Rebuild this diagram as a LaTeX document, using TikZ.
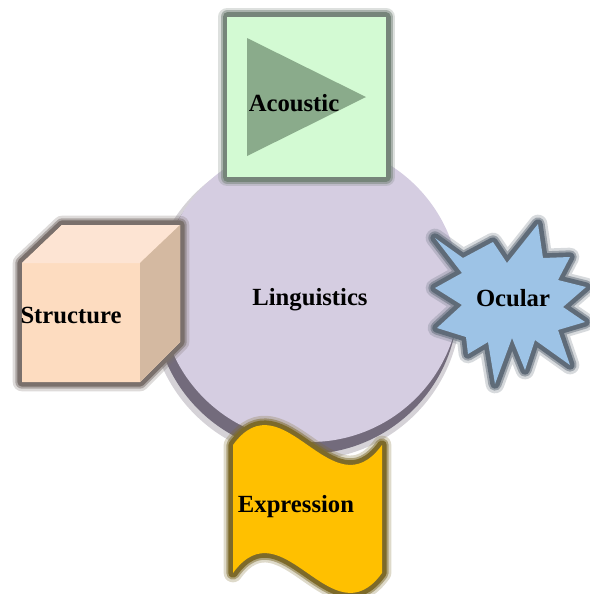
\documentclass[tikz,border=0pt]{standalone}
\usepackage{fontspec}
\setmainfont{Liberation Serif}

\definecolor{lingfill}{HTML}{D5CDE1}
\definecolor{lingshadow}{HTML}{736B7C}
\definecolor{acfill}{HTML}{D3FAD3}
\definecolor{actri}{HTML}{8AAB8B}
\definecolor{acedge}{HTML}{76857A}
\definecolor{cubefront}{HTML}{FDDCC0}
\definecolor{cubetop}{HTML}{FDE4D3}
\definecolor{cuberight}{HTML}{D4B9A1}
\definecolor{cubeedge}{HTML}{7A706C}
\definecolor{starfill}{HTML}{9DC3E6}
\definecolor{staredge}{HTML}{5F6B78}
\definecolor{exfill}{HTML}{FFC000}
\definecolor{exedge}{HTML}{7D6A2A}

\begin{document}
\begin{tikzpicture}[x = 0.75pt, y = -0.75pt,
                        label/.style = {font = \bfseries\fontsize{18.5}{22}\selectfont, inner sep = 0pt},
                        halo/.style = {preaction = {draw = #1, line width = 14pt, opacity = 0.25, line join = round},
                                       preaction = {draw = #1, line width = 10pt, opacity = 0.5, line join = round},
                                       preaction = {draw = #1, line width = 7pt, line join = round}}]
      \useasboundingbox (0, 0) rectangle (590, 594);
      % middle circle
      \fill [lingshadow, opacity = 0.3] (305, 304) circle [radius = 156];
      \fill [lingshadow] (306, 302) circle [radius = 152];
      \node [circle, fill = lingfill, minimum size = 225pt, inner sep = 0pt] (ling) at (310, 292){};
      \node [label] (lingtext) at (310, 300){Linguistics};
      % top
      \node [rectangle, fill = acfill, halo = acedge, minimum width = 119pt, minimum height = 120pt] (acbox) at (306.5, 97){};
      \fill [actri] (247, 38) -- (366, 97) -- (247, 156) -- cycle;
      \node [label] (actext) at (294, 103){Acoustic};
      % left
      \path [halo = cubeedge, fill = cubefront] (22, 263) -- (62, 225) -- (180, 225) -- (180, 342) -- (140, 382) -- (22, 382) -- cycle;
      \fill [cubetop] (22, 263) -- (62, 225) -- (180, 225) -- (140, 263) -- cycle;
      \fill [cuberight] (140, 263) -- (180, 225) -- (180, 342) -- (140, 382) -- cycle;
      \node [label] (sttext) at (71, 315){Structure};
      % right
      \path [halo = staredge, fill = starfill] (435, 238) -- (463, 258) -- (493, 242) -- (507, 263) -- (538, 224) -- (543, 258)
            -- (570, 257) -- (558, 280) -- (586, 287) -- (563, 307) -- (585, 322) -- (558, 330) -- (570, 365)
            -- (535, 340) -- (525, 370) -- (512, 338) -- (495, 384) -- (488, 342) -- (468, 354) -- (466, 337)
            -- (437, 328) -- (462, 305) -- (435, 288) -- (462, 273) -- cycle;
      \node [label] (octext) at (513, 298){Ocular};
      % bottom
      \path [halo = exedge, fill = exfill] (233, 445) .. controls (283, 376) and (332, 514) .. (382, 445)
            -- (382, 573) .. controls (332, 642) and (283, 504) .. (233, 573) -- cycle;
      \node [label] (extext) at (296, 507){Expression};
    \end{tikzpicture}
\end{document}
